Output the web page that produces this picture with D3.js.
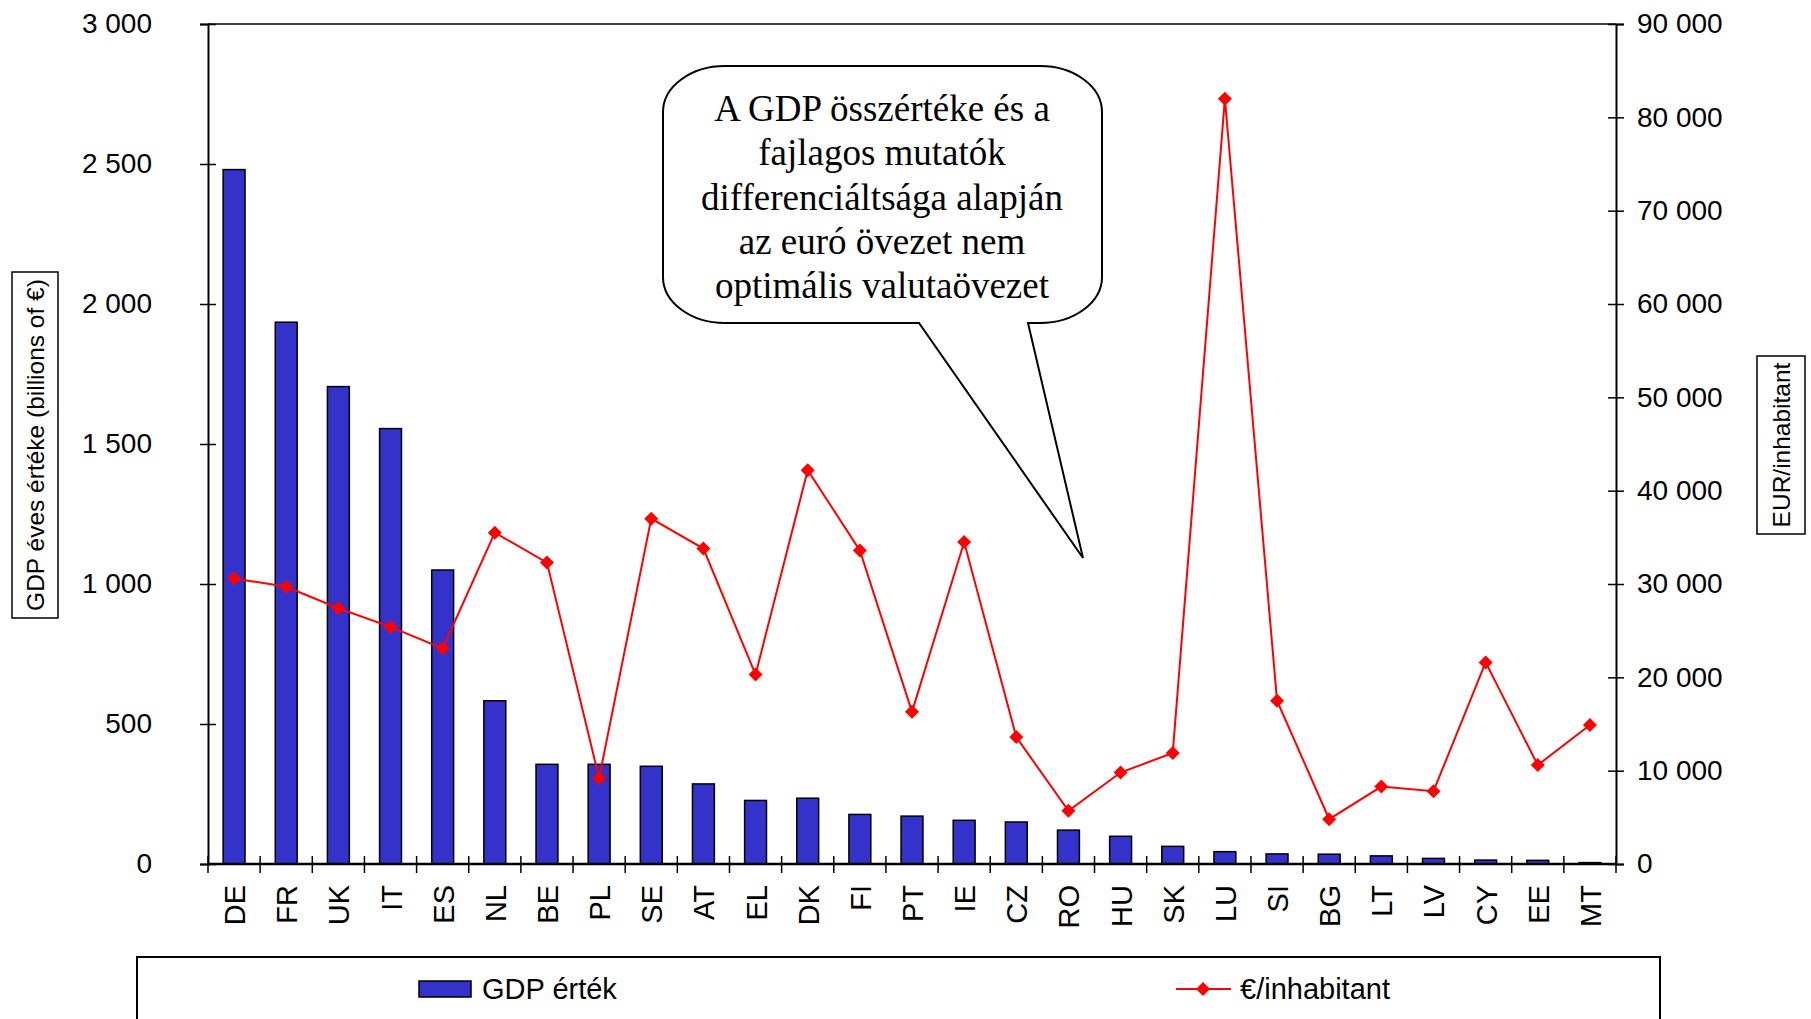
<!DOCTYPE html>
<html>
<head>
<meta charset="utf-8">
<script src="https://cdn.jsdelivr.net/npm/d3@7"></script>
<style>
  html, body { margin: 0; padding: 0; background: #fff; }
  svg { display: block; }
  text { font-family: "Liberation Sans", Arial, sans-serif; fill: #000; }
</style>
</head>
<body>
<svg id="chart" width="1811" height="1019"></svg>
<script>
// ---- Data ----
const countries = ["DE","FR","UK","IT","ES","NL","BE","PL","SE","AT","EL","DK","FI","PT","IE","CZ","RO","HU","SK","LU","SI","BG","LT","LV","CY","EE","MT"];
const gdpValues = [2480,1935,1705,1555,1050,583,356,356,349,286,227,235,177,171,156,150,121,99,63,44,36,35,29,20,14,13,5];
const perInhabitant = [30600,29700,27400,25400,23100,35500,32300,9200,37000,33800,20300,42200,33600,16300,34500,13600,5700,9800,11900,82000,17500,4800,8300,7800,21600,10600,14900];
const leftTicks = [0,500,1000,1500,2000,2500,3000];
const rightTicks = [0,10000,20000,30000,40000,50000,60000,70000,80000,90000];
const seriesNames = ["GDP érték", "€/inhabitant"];
const leftTitle = "GDP éves értéke (billions of €)";
const rightTitle = "EUR/inhabitant";
const calloutLines = ["A GDP összértéke és a","fajlagos mutatók","differenciáltsága alapján","az euró övezet nem","optimális valutaövezet"];

// ---- Layout ----
const L = 208, R = 1616, T = 24, B = 864;
const barColor = "#3333CC", lineColor = "#FF0000";
const tickFont = "28px", catFont = "29px", legFont = "29px", titleFont = "24.5px";
const svg = d3.select("#chart");
const fmt = d => d3.format(",")(d).replace(/,/g, " ");

const x = d3.scaleBand().domain(countries).range([L, R]).paddingInner(0).paddingOuter(0);
const yL = d3.scaleLinear().domain([0, 3000]).range([B, T]);
const yR = d3.scaleLinear().domain([0, 90000]).range([B, T]);

// top border
svg.append("line").attr("x1", L).attr("x2", R).attr("y1", T).attr("y2", T)
  .attr("stroke", "#000").attr("stroke-width", 1.5);

// bars
const bw = x.bandwidth() * 0.42;
svg.append("g").selectAll("rect").data(countries).join("rect")
  .attr("x", (d) => x(d) + x.bandwidth()/2 - bw/2)
  .attr("y", (d, i) => yL(gdpValues[i]))
  .attr("width", bw)
  .attr("height", (d, i) => B - yL(gdpValues[i]))
  .attr("fill", barColor).attr("stroke", "#000").attr("stroke-width", 1.5);

// left axis
const gL = svg.append("g").attr("transform", `translate(${L},0)`)
  .call(d3.axisLeft(yL).tickValues(leftTicks).tickFormat(fmt).tickSize(8).tickPadding(48));
gL.selectAll(".tick line").attr("x1", 8).attr("stroke-width", 1.5);
gL.select(".domain").attr("stroke-width", 2);
gL.selectAll(".tick text").style("font-size", tickFont).style("font-family", "Liberation Sans, Arial");

// right axis
const gR = svg.append("g").attr("transform", `translate(${R},0)`)
  .call(d3.axisRight(yR).tickValues(rightTicks).tickFormat(fmt).tickSize(8).tickPadding(13));
gR.selectAll(".tick line").attr("x1", -8).attr("stroke-width", 1.5);
gR.select(".domain").attr("stroke-width", 2);
gR.selectAll(".tick text").style("font-size", tickFont).style("font-family", "Liberation Sans, Arial");

// x axis (ticks between categories)
const gX = svg.append("g").attr("transform", `translate(0,${B})`);
gX.append("line").attr("x1", L).attr("x2", R).attr("stroke", "#000").attr("stroke-width", 2.5);
const boundaries = countries.map(d => x(d)).concat([R]);
gX.selectAll("line.tk").data(boundaries).join("line").attr("class", "tk")
  .attr("x1", d => d).attr("x2", d => d).attr("y1", -8).attr("y2", 9)
  .attr("stroke", "#000").attr("stroke-width", 1.5);
gX.selectAll("text").data(countries).join("text")
  .attr("transform", d => `translate(${x(d) + x.bandwidth()/2 + 1},21) rotate(-90)`)
  .attr("text-anchor", "end").attr("dominant-baseline", "central")
  .style("font-size", catFont).text(d => d);

// line series
const line = d3.line().x((d, i) => x(countries[i]) + x.bandwidth()/2).y(d => yR(d));
svg.append("path").datum(perInhabitant).attr("d", line)
  .attr("fill", "none").attr("stroke", lineColor).attr("stroke-width", 2);
const diamond = (cx, cy, r) => `M${cx},${cy-r}L${cx+r},${cy}L${cx},${cy+r}L${cx-r},${cy}Z`;
svg.append("g").selectAll("path").data(perInhabitant).join("path")
  .attr("d", (d, i) => diamond(x(countries[i]) + x.bandwidth()/2, yR(d), 7))
  .attr("fill", lineColor);

// axis titles
const lt = svg.append("g");
lt.append("rect").attr("x", 12).attr("y", 272).attr("width", 46).attr("height", 346)
  .attr("fill", "#fff").attr("stroke", "#000").attr("stroke-width", 1.5);
lt.append("text").attr("transform", "translate(35,445) rotate(-90)")
  .attr("text-anchor", "middle").attr("dominant-baseline", "central")
  .style("font-size", titleFont).text(leftTitle);
const rt = svg.append("g");
rt.append("rect").attr("x", 1757).attr("y", 356).attr("width", 48).attr("height", 178)
  .attr("fill", "#fff").attr("stroke", "#000").attr("stroke-width", 1.5);
rt.append("text").attr("transform", "translate(1781,445) rotate(-90)")
  .attr("text-anchor", "middle").attr("dominant-baseline", "central")
  .style("font-size", titleFont).text(rightTitle);

// legend
const lg = svg.append("g");
lg.append("rect").attr("x", 137).attr("y", 957).attr("width", 1523).attr("height", 120)
  .attr("fill", "#fff").attr("stroke", "#000").attr("stroke-width", 2);
lg.append("rect").attr("x", 419).attr("y", 981).attr("width", 52).attr("height", 16)
  .attr("fill", barColor).attr("stroke", "#000").attr("stroke-width", 1.5);
lg.append("text").attr("x", 482).attr("y", 989).attr("dominant-baseline", "central")
  .style("font-size", legFont).text(seriesNames[0]);
lg.append("line").attr("x1", 1176).attr("x2", 1231).attr("y1", 989).attr("y2", 989)
  .attr("stroke", lineColor).attr("stroke-width", 2);
lg.append("path").attr("d", diamond(1203, 989, 7)).attr("fill", lineColor);
lg.append("text").attr("x", 1240).attr("y", 989).attr("dominant-baseline", "central")
  .style("font-size", legFont).text(seriesNames[1]);

// callout
const x0 = 663, x1 = 1102, y0 = 66, y1 = 323, rx = 62, ry = 46;
const tailL = 919, tailR = 1028, tipX = 1083, tipY = 558;
const cp = `M${x0+rx},${y0} L${x1-rx},${y0} A${rx},${ry} 0 0 1 ${x1},${y0+ry}
  L${x1},${y1-ry} A${rx},${ry} 0 0 1 ${x1-rx},${y1} L${tailR},${y1} L${tipX},${tipY} L${tailL},${y1}
  L${x0+rx},${y1} A${rx},${ry} 0 0 1 ${x0},${y1-ry} L${x0},${y0+ry} A${rx},${ry} 0 0 1 ${x0+rx},${y0} Z`;
svg.append("path").attr("d", cp).attr("fill", "#fff").attr("stroke", "#000").attr("stroke-width", 2);
svg.append("g").selectAll("text").data(calloutLines).join("text")
  .attr("x", 882).attr("y", (d, i) => 121 + i * 44.3)
  .attr("text-anchor", "middle")
  .style("font-family", "Liberation Serif, Times New Roman, serif").style("font-size", "37px")
  .text(d => d);
</script>
</body>
</html>
